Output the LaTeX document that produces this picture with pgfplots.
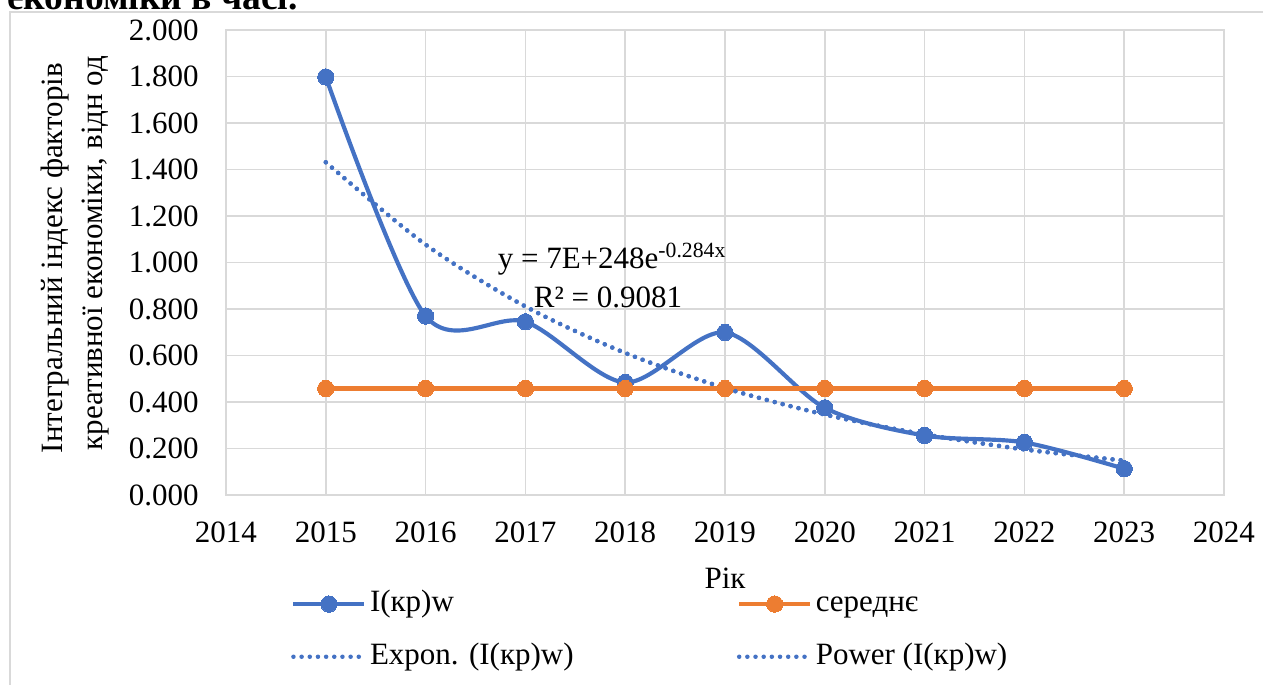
\documentclass[border=0pt]{standalone}
\usepackage{fontspec}
\setmainfont{Liberation Serif}
\usepackage{pgfplots}
\pgfplotsset{compat=1.18}
\definecolor{xblue}{HTML}{4472C4}
\definecolor{xorange}{HTML}{ED7D31}
\definecolor{xgrid}{HTML}{D9D9D9}
\begin{document}
\fontsize{18.6pt}{22pt}\selectfont
\begin{tikzpicture}[x=0.6pt,y=-0.6pt]
\useasboundingbox (0,0) rectangle (1263,685);
\draw[xgrid, line width=0.9pt] (1270,12) -- (10,12) -- (10,700);
\node[anchor=base east, font=\fontsize{22.5pt}{26pt}\selectfont\bfseries, inner sep=0pt] at (298,9) {економіки в часі.};
\begin{axis}[
  at={(135.6pt,-297pt)}, anchor=south west,
  scale only axis, width=598.8pt, height=279pt,
  xmin=2014, xmax=2024, ymin=0, ymax=2,
  xtick={2014,2015,2016,2017,2018,2019,2020,2021,2022,2023,2024},
  ytick={0,0.2,0.4,0.6,0.8,1,1.2,1.4,1.6,1.8,2},
  grid=major, major grid style={draw=xgrid, line width=0.9pt},
  axis line style={draw=xgrid, line width=0.9pt},
  major tick length=0pt,
  /pgf/number format/assume math mode=true,
  x tick label style={/pgf/number format/.cd, 1000 sep={}, /tikz/.cd, yshift=-10pt},
  y tick label style={/pgf/number format/.cd, fixed, fixed zerofill, precision=3, /tikz/.cd, xshift=-10pt},
  legend columns=2,
  legend style={at={(axis description cs:0.065,-0.196)}, anchor=north west, draw=none, fill=none,
    inner sep=0pt, row sep=10.5pt, nodes={inner sep=2pt, text height=0.7em, text depth=0.22em},
    /tikz/every even column/.append style={column sep=96pt}},
  legend cell align=left,
  legend image code/.code={\draw[mark repeat=2,mark phase=2,#1] plot coordinates {(0pt,0pt) (21.3pt,0pt) (42.6pt,0pt)};},
]
\addplot[xblue, line width=2.5pt, smooth, tension=0.5, mark=*, mark size=4.9pt, mark options={solid, fill=xblue, draw=xblue, line width=0pt}]
  coordinates {(2015,1.798) (2016,0.770) (2017,0.745) (2018,0.484) (2019,0.699) (2020,0.375) (2021,0.256) (2022,0.226) (2023,0.113)};
\addlegendentry{I(кр)w}
\addplot[xorange, line width=2.5pt, mark=*, mark size=4.9pt, mark options={solid, fill=xorange, draw=xorange, line width=0pt}]
  coordinates {(2015,0.458) (2016,0.458) (2017,0.458) (2018,0.458) (2019,0.458) (2020,0.458) (2021,0.458) (2022,0.458) (2023,0.458)};
\addlegendentry{середнє}
\addplot[xblue, line width=2.7pt, line cap=round, dash pattern=on 0pt off 4.9pt, smooth]
  coordinates {(2015,1.431) (2016,1.077) (2017,0.811) (2018,0.611) (2019,0.460) (2020,0.346) (2021,0.261) (2022,0.196) (2023,0.148)};
\addlegendentry{Expon. (I(кр)w)}
\addplot[xblue, line width=2.7pt, line cap=round, dash pattern=on 0pt off 4.9pt, smooth]
  coordinates {(2015,1.431) (2016,1.077) (2017,0.811) (2018,0.611) (2019,0.460) (2020,0.346) (2021,0.261) (2022,0.196) (2023,0.148)};
\addlegendentry{Power (I(кр)w)}
\end{axis}
\node[anchor=base] at (612,268) {y = 7E+248e\textsuperscript{-0.284x}};
\node[anchor=base] at (608,307) {R² = 0.9081};
\node[anchor=base] at (725,588) {Рік};
\node[rotate=90, anchor=base] at (62,258) {Інтегральний індекс факторів};
\node[rotate=90, anchor=base] at (102,253) {креативної економіки, відн од};
\end{tikzpicture}
\end{document}
